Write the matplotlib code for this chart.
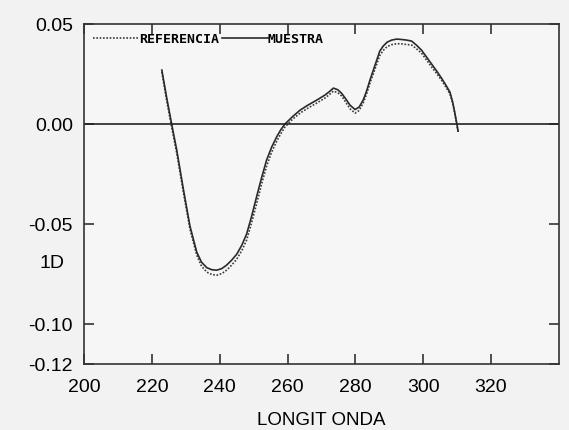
import matplotlib.pyplot as plt

# datos (longitud de onda en nm, primera derivada)
longitud = [222.9, 224.3, 225.8, 227.3, 229.3, 231.2, 233.2, 234.6, 236.2, 237.7,
            239.1, 240.6, 242.0, 243.5, 245.0, 246.5, 247.9, 249.4, 250.9, 252.3,
            253.8, 255.3, 256.8, 258.0, 259.2, 261.5, 263.7, 266.0, 268.6, 271.0,
            272.3, 273.5, 274.8, 276.0, 277.2, 278.4, 279.9, 281.1, 282.3, 283.3,
            284.3, 285.3, 286.3, 287.2, 288.2, 289.4, 290.7, 292.2, 293.6, 295.1,
            296.6, 298.0, 299.5, 301.0, 302.5, 304.0, 305.4, 306.7, 307.9, 308.7,
            309.3, 310.0, 310.3]
muestra = [0.027, 0.0135, 0.0, -0.013, -0.033, -0.051, -0.064, -0.069, -0.0718, -0.0728,
           -0.073, -0.0722, -0.0705, -0.068, -0.065, -0.0605, -0.055, -0.046, -0.036, -0.027,
           -0.018, -0.0115, -0.0063, -0.0028, 0.0, 0.0038, 0.007, 0.0095, 0.012, 0.0145,
           0.0162, 0.018, 0.0172, 0.0153, 0.0125, 0.0095, 0.0073, 0.0085, 0.012, 0.0165,
           0.022, 0.027, 0.032, 0.0365, 0.039, 0.041, 0.042, 0.0425, 0.0423, 0.042,
           0.0415, 0.0395, 0.037, 0.0335, 0.030, 0.0265, 0.023, 0.0195, 0.016, 0.011,
           0.006, -0.0005, -0.0035]
referencia = [0.026, 0.012, -0.0015, -0.0145, -0.0345, -0.0525, -0.0655, -0.071, -0.074, -0.0752,
              -0.0755, -0.0747, -0.073, -0.0705, -0.0675, -0.0632, -0.058, -0.0492, -0.0395, -0.0302,
              -0.021, -0.014, -0.0085, -0.0048, -0.0015, 0.0025, 0.0055, 0.008, 0.0105, 0.013,
              0.0147, 0.0165, 0.0157, 0.014, 0.0108, 0.0077, 0.0055, 0.0068, 0.0105, 0.015,
              0.0205, 0.0252, 0.030, 0.0343, 0.0368, 0.0388, 0.0397, 0.0402, 0.0401, 0.0398,
              0.0395, 0.0377, 0.0355, 0.032, 0.0285, 0.0252, 0.022, 0.0185, 0.015, 0.0105,
              0.0055, -0.001, -0.004]

xticks = [200, 220, 240, 260, 280, 300, 320]
yticks = [0.05, 0.00, -0.05, -0.10, -0.12]
ytick_labels = ["0.05", "0.00", "-0.05", "-0.10", "-0.12"]

plt.rcParams['font.family'] = ['Liberation Sans', 'DejaVu Sans']

fig = plt.figure(figsize=(5.69, 4.30), dpi=100, facecolor='#f2f2f2')
ax = fig.add_axes([0.148, 0.153, 0.834, 0.791], facecolor='#f6f6f6')

ax.plot(longitud, referencia, color='#3a3a3a', lw=1.2, linestyle=(0, (1, 1)), label='REFERENCIA')
ax.plot(longitud, muestra, color='#2a2a2a', lw=1.2, label='MUESTRA')
ax.axhline(0, color='#222222', lw=1.2)

ax.set_xlim(200, 340)
ax.set_ylim(-0.12, 0.05)
ax.set_xticks(xticks)
ax.set_yticks(yticks)
ax.set_yticklabels(ytick_labels)
ax.tick_params(direction='in', length=7, width=1.2, color='#333333',
               labelsize=14, top=True, right=True, pad=8)
ax.tick_params(axis='x', pad=11)

for s in ax.spines.values():
    s.set_color('#333333')
    s.set_linewidth(1.2)

ax.set_xlabel("LONGIT ONDA", fontsize=13.5, labelpad=11)
ax.set_ylabel("1D", fontsize=14, rotation=0, ha='center', va='center')
ax.yaxis.set_label_coords(-0.067, 0.297)

leg = ax.legend(loc='upper left', ncol=2, frameon=False, handlelength=3.5,
                handletextpad=0.0, columnspacing=0.2, borderaxespad=0.25,
                prop={'family': 'DejaVu Sans Mono', 'weight': 'bold', 'size': 9.5})

fig.savefig("out.png", dpi=100, facecolor=fig.get_facecolor())
